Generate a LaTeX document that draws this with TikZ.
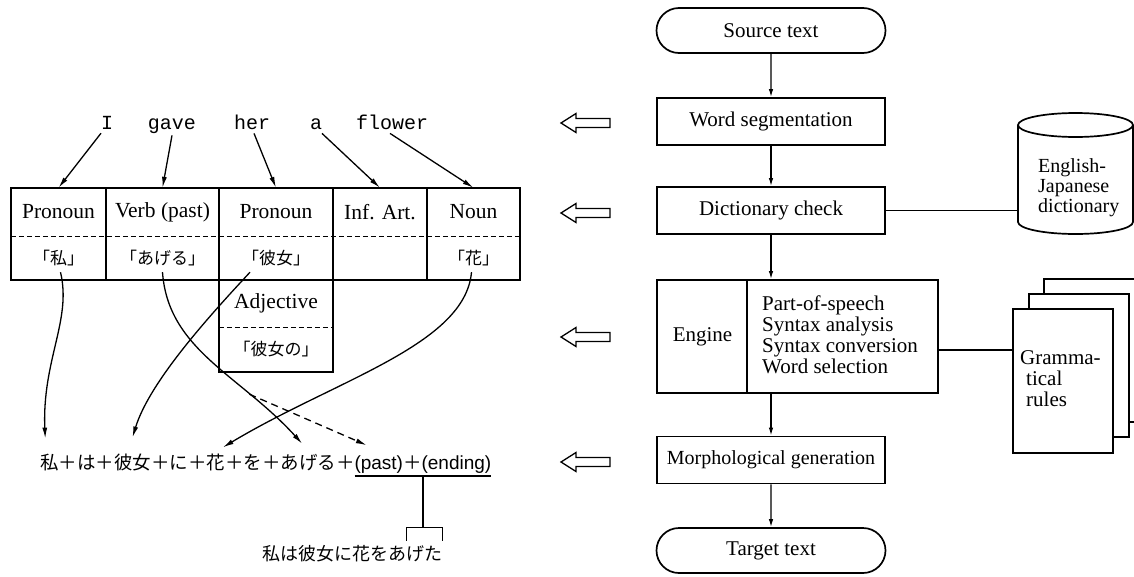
\documentclass[tikz,border=0pt]{standalone}
\usepackage{fontspec}
\setmainfont{Liberation Serif}
\newfontfamily\jafont{Noto Sans CJK JP}
\newfontfamily\wordfont{Liberation Mono}
\newfontfamily\lsans{Liberation Sans}
\usetikzlibrary{shapes.misc,arrows.meta,calc}
\newcommand\setfs[1]{\fontsize{#1}{#1}\selectfont}

\begin{document}
\begin{tikzpicture}[x=1pt,y=-1pt,
  line/.style={line width=1.3pt},
  box/.style={draw, line width=1.7pt},
  dashline/.style={line width=1.2pt, dash pattern=on 5pt off 3pt},
  flow/.style={line width=1.3pt, -{Latex[length=8pt,width=4.5pt]}},
  warrow/.style={line width=1.3pt, -{Latex[length=11pt,width=5pt]}},
  flowbox/.style={box, rectangle, minimum width=228pt, minimum height=47pt, inner sep=0pt, font=\setfs{21}},
  pill/.style={box, rounded rectangle, minimum width=229pt, minimum height=45pt, inner sep=0pt, font=\setfs{21}},
  hollowline/.style={draw, line width=1.3pt, line join=miter},
  word/.style={inner sep=2pt, anchor=base, font=\wordfont\setfs{20}},
  cell/.style={rectangle, inner sep=0pt, font=\setfs{21.5}},
  jcell/.style={rectangle, inner sep=0pt, font=\jafont\setfs{17}},
  piece/.style={anchor=base west, inner sep=0pt, outer sep=0pt, font=\jafont\setfs{18.5}},
  lpiece/.style={anchor=base west, inner sep=0pt, outer sep=0pt, font=\lsans\setfs{19}}]
\useasboundingbox (0,0) rectangle (1134,576);
\clip (0,0) rectangle (1134,576);

% ---------------- processing flow ----------------
\node[pill] (src) at (771,30.5) {Source text};
\node[flowbox] (seg) at (771,121.5) {Word segmentation};
\node[flowbox] (chk) at (771,210.5) {Dictionary check};
\node[box, rectangle, minimum width=281pt, minimum height=113pt, inner sep=0pt] (eng) at (797.5,336.5) {};
\draw[box] ($(eng.north west)+(91,0)$) -- ($(eng.south west)+(91,0)$);
\node[font=\setfs{21}] (englabel) at (702.5,336.5) {Engine};
\node[font=\setfs{21}, align=left, anchor=west, inner sep=0pt] (engsteps) at (762,335)
  {Part-of-speech\\Syntax analysis\\Syntax conversion\\Word selection};
\node[flowbox, font=\setfs{20}] (mor) at (771,460) {Morphological generation};
\node[pill] (tgt) at (771,550.5) {Target text};

\draw[flow] (src) -- (seg);
\draw[flow] (seg) -- (chk);
\draw[flow] (chk.south) -- (chk.south |- eng.north);
\draw[flow] (mor.north |- eng.south) -- (mor.north);
\draw[flow] (mor) -- (tgt);

% dictionary drum
\draw[box, fill=white] (1018,125) -- (1018,222)
  arc[start angle=180, end angle=360, x radius=57.5pt, y radius=12pt] -- (1133,125);
\draw[box] (1075.5,125) ellipse [x radius=57.5pt, y radius=12pt];
\node[font=\setfs{20}, align=left, anchor=north west, inner sep=0pt] (dict) at (1038,158)
  {English-\\Japanese\\dictionary};
\coordinate (dictin) at (1018,210.5);
\draw[line] (chk.east) -- (dictin);

% stack of rule sheets
\draw[box, fill=white] (1044,279) rectangle (1150,422);
\draw[box, fill=white] (1029,294) rectangle (1129,437);
\node[box, fill=white, rectangle, minimum width=100pt, minimum height=144pt, inner sep=0pt] (gram) at (1063,381) {};
\node[font=\setfs{21}, align=left, anchor=north west, inner sep=0pt] (gramtext) at (1020,350)
  {Gramma-\\\hspace*{6pt}tical\\\hspace*{6pt}rules};
\coordinate (gin) at (1013,350);
\draw[line] (eng.east |- gin) -- (gin);

% hollow arrows pointing back to the example
\foreach \n/\y in {h1/123, h2/213, h3/337, h4/462} {
  \coordinate (\n) at (561,\y);
  \draw[hollowline] (\n) -- ++(15,-9.5) -- ++(0,5) -- ++(34,0) -- ++(0,9) -- ++(-34,0)
    -- ++(0,5) -- cycle;
}

% ---------------- worked example ----------------
\node[word] (wI) at (107,129) {I};
\node[word] (wgave) at (172,129) {gave};
\node[word] (wher) at (252,129) {her};
\node[word] (wa) at (316,129) {a};
\node[word] (wflower) at (392,129) {flower};

% dictionary entries
\node[cell, minimum width=95pt, minimum height=48pt] (c1) at (58.5,212) {Pronoun};
\node[cell, minimum width=113pt, minimum height=48pt] (c2) at (162.5,212) {Verb (past)};
\node[cell, minimum width=114pt, minimum height=48pt] (c3) at (276,212) {Pronoun};
\node[cell, minimum width=94pt, minimum height=48pt] (c4) at (380,212) {Inf. Art.};
\node[cell, minimum width=93pt, minimum height=48pt] (c5) at (473.5,212) {Noun};
\node[jcell, minimum width=95pt, minimum height=44pt] (d1) at (58.5,258) {「私」};
\node[jcell, minimum width=113pt, minimum height=44pt] (d2) at (162.5,258) {「あげる」};
\node[jcell, minimum width=114pt, minimum height=44pt] (d3) at (276,258) {「彼女」};
\node[jcell, minimum width=94pt, minimum height=44pt] (d4) at (380,258) {};
\node[jcell, minimum width=93pt, minimum height=44pt] (d5) at (473.5,258) {「花」};
\node[cell, minimum width=114pt, minimum height=47pt] (e3) at (276,303.5) {Adjective};
\node[jcell, minimum width=114pt, minimum height=45pt] (f3) at (276,349.5) {「彼女の」};

\draw[box] (c1.north west) rectangle (d5.south east);
\foreach \i in {1,...,4} \draw[box] (c\i.north east) -- (d\i.south east);
\draw[dashline] (c1.south west) -- (c5.south east);
\draw[box] (d3.south west) -- (f3.south west) -- (f3.south east) -- (d3.south east);
\draw[dashline] (e3.south west) -- (e3.south east);

\draw[warrow] ($(wI.south)+(-6,2)$) -- (c1.north);
\draw[warrow] (wgave.south) -- (c2.north);
\draw[warrow] ($(wher.south)+(2,2)$) -- (c3.north);
\draw[warrow] ($(wa.south)+(6,2)$) -- (c4.north);
\draw[warrow] ($(wflower.south)+(-2,2)$) -- (c5.north);

% Japanese word string
\node[piece] (b1) at (40,469) {私};
\node[piece] (b2) at (b1.base east) {＋};
\node[piece] (b3) at (b2.base east) {は};
\node[piece] (b4) at (b3.base east) {＋};
\node[piece] (b5) at (b4.base east) {彼女};
\node[piece] (b6) at (b5.base east) {＋};
\node[piece] (b7) at (b6.base east) {に};
\node[piece] (b8) at (b7.base east) {＋};
\node[piece] (b9) at (b8.base east) {花};
\node[piece] (b10) at (b9.base east) {＋};
\node[piece] (b11) at (b10.base east) {を};
\node[piece] (b12) at (b11.base east) {＋};
\node[piece] (b13) at (b12.base east) {あげる};
\node[piece] (b14) at (b13.base east) {＋};
\node[lpiece] (b15) at (b14.base east) {(past)};
\node[piece] (b16) at (b15.base east) {＋};
\node[lpiece] (b17) at (b16.base east) {(ending)};

\draw[warrow] ($(d1.south)+(2,-8)$) .. controls (72,320) and (42,360) .. ($(b1.north)+(-4,-15)$);
\draw[warrow] ($(d3.south)+(-26,-8)$) .. controls (215,310) and (150,380) .. ($(b5.north)+(0,-16)$);
\draw[warrow] ($(d2.south)+(0,-8)$) .. controls (168,350) and (240,375) ..
  coordinate[pos=0.72] (branch) ($(b13.north)+(-6,-10)$);
\draw[warrow, dash pattern=on 7pt off 5pt] (branch) -- ($(b15.north)+(-12,-10)$);
\draw[warrow] ($(d5.south)+(-2,-8)$) .. controls (465,345) and (335,380) .. ($(b9.north)+(7,-6)$);

% inflected result
\coordinate (ul1) at ($(b15.base west)+(0,7)$);
\coordinate (ul2) at ($(b17.base east)+(0,7)$);
\draw[line] (ul1) -- (ul2);
\node[anchor=base, inner sep=0pt, font=\jafont\setfs{18}] (fin) at (352,560) {私は彼女に花をあげた};
\coordinate (bl) at ($(fin.north east)+(-36,-4)$);
\coordinate (br) at ($(fin.north east)+(0,-4)$);
\coordinate (btop) at ($(bl)+(0,-13)$);
\draw[line] (bl) -- (btop) -| (br);
\coordinate (ulm) at ($(ul1)!0.5!(ul2)$);
\draw[line] (ulm) -- (ulm |- btop);
\end{tikzpicture}
\end{document}
